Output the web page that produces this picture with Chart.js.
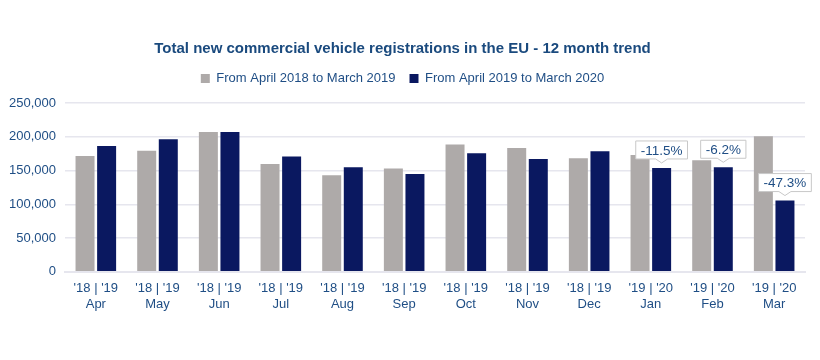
<!DOCTYPE html>
<html>
<head>
    <meta charset="UTF-8">
    <title>EU commercial vehicle registrations</title>
    <style>
        body { margin: 0; background: #fff; }
        #chart { display: block; }
    </style>
</head>
<body>
    <canvas id="chart" width="820" height="360"></canvas>
    <script src="https://cdn.jsdelivr.net/npm/chart.js"></script>
    <script>
        // data
        const months = ['Apr', 'May', 'Jun', 'Jul', 'Aug', 'Sep', 'Oct', 'Nov', 'Dec', 'Jan', 'Feb', 'Mar'];
        const yearPairs = ["'18 | '19", "'18 | '19", "'18 | '19", "'18 | '19", "'18 | '19", "'18 | '19",
                           "'18 | '19", "'18 | '19", "'18 | '19", "'19 | '20", "'19 | '20", "'19 | '20"];
        const prevYear = [171600, 179400, 207100, 159800, 143000, 152900, 188400, 183400, 168100, 173100, 165200, 200700];
        const currYear = [186400, 196300, 207100, 170600, 154800, 145000, 175500, 167200, 178500, 153800, 154800, 105500];
        const changeLabels = [null, null, null, null, null, null, null, null, null, '-11.5%', '-6.2%', '-47.3%'];
        const yTicks = [0, 50000, 100000, 150000, 200000, 250000];

        const textBlue = '#1f4e85';
        const fontName = '"Liberation Sans", Arial, sans-serif';

        // extra room between legend and plot
        const legendGap = {
            id: 'legendGap',
            afterInit(chart) {
                const fit = chart.legend.fit;
                chart.legend.fit = function () {
                    fit.call(this);
                    this.height += 8;
                };
            }
        };

        // little boxed labels with a pointer above the latest bars
        const calloutPlugin = {
            id: 'callouts',
            afterDatasetsDraw(chart) {
                const ctx = chart.ctx;
                const bars = chart.getDatasetMeta(1).data;
                ctx.save();
                ctx.font = '13.5px ' + fontName;
                changeLabels.forEach((txt, i) => {
                    if (!txt) return;
                    const bar = bars[i];
                    const w = ctx.measureText(txt).width + 10;
                    const h = 18;
                    const bottom = bar.y - 9;
                    const left = bar.x - w / 2;
                    ctx.beginPath();
                    ctx.moveTo(left, bottom - h);
                    ctx.lineTo(left + w, bottom - h);
                    ctx.lineTo(left + w, bottom);
                    ctx.lineTo(bar.x + 6, bottom);
                    ctx.lineTo(bar.x, bottom + 4);
                    ctx.lineTo(bar.x - 6, bottom);
                    ctx.lineTo(left, bottom);
                    ctx.closePath();
                    ctx.fillStyle = '#ffffff';
                    ctx.fill();
                    ctx.strokeStyle = '#c8c8c8';
                    ctx.lineWidth = 1;
                    ctx.stroke();
                    ctx.fillStyle = textBlue;
                    ctx.textAlign = 'center';
                    ctx.textBaseline = 'middle';
                    ctx.fillText(txt, bar.x, bottom - h / 2 + 1);
                });
                ctx.restore();
            }
        };

        const ctx = document.getElementById('chart').getContext('2d');
        new Chart(ctx, {
            type: 'bar',
            data: {
                labels: months.map((m, i) => [yearPairs[i], m]),
                datasets: [
                    {
                        label: 'From April 2018 to March 2019',
                        data: prevYear,
                        backgroundColor: '#aeaaa9',
                        categoryPercentage: 0.7,
                        barPercentage: 0.88
                    },
                    {
                        label: 'From April 2019 to March 2020',
                        data: currYear,
                        backgroundColor: '#0a1860',
                        categoryPercentage: 0.7,
                        barPercentage: 0.88
                    }
                ]
            },
            options: {
                responsive: false,
                animation: false,
                layout: { padding: { left: 0, right: 15, top: 36, bottom: 47 } },
                plugins: {
                    title: {
                        display: true,
                        text: 'Total new commercial vehicle registrations in the EU - 12 month trend',
                        color: '#1a4a7e',
                        font: { family: fontName, size: 15, weight: 'bold' },
                        padding: { top: 4, bottom: 0 }
                    },
                    legend: {
                        labels: {
                            color: textBlue,
                            font: { family: fontName, size: 13 },
                            boxWidth: 9,
                            boxHeight: 9,
                            padding: 14
                        }
                    },
                    tooltip: { enabled: false }
                },
                scales: {
                    x: {
                        grid: { display: false },
                        border: { color: '#e6e6ee', width: 2 },
                        ticks: {
                            color: textBlue,
                            font: { family: fontName, size: 13 },
                            maxRotation: 0,
                            padding: 1
                        }
                    },
                    y: {
                        min: 0,
                        max: 250000,
                        afterBuildTicks(axis) {
                            axis.ticks = yTicks.map(v => ({ value: v }));
                        },
                        grid: { color: '#e6e6ee', lineWidth: 1.5, drawTicks: false },
                        border: { display: false },
                        ticks: {
                            color: textBlue,
                            font: { family: fontName, size: 13 },
                            padding: 9,
                            callback: v => v.toLocaleString('en-US')
                        }
                    }
                }
            },
            plugins: [legendGap, calloutPlugin]
        });
    </script>
</body>
</html>
